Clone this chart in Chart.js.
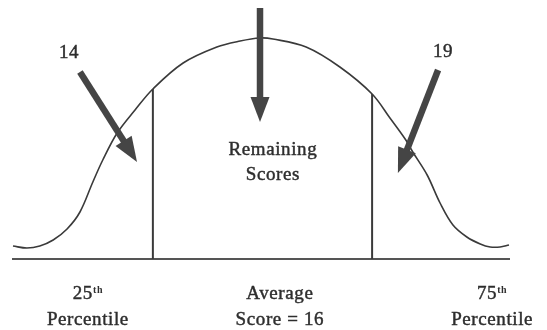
<!DOCTYPE html>
<html>
<head>
<meta charset="utf-8">
<script src="https://cdn.jsdelivr.net/npm/chart.js@4/dist/chart.umd.min.js"></script>
<style>
  body { margin: 0; background: #fff; }
  canvas { display: block; }
</style>
</head>
<body>
<canvas id="bell" width="547" height="330"></canvas>
<script>
// bell curve (x 0..100 across the axis, y 0..100 up from it)
var curveX = [0, 2.8, 5.4, 8.1, 10.9, 13.5, 16.1, 18.1, 21.0, 24.6, 28.2, 34.3, 41.1, 45.8, 49.8, 52.4, 59.1, 65.9, 72.4, 76.0, 79.2, 80.6, 83.5, 86.1, 88.7, 91.5, 94.2, 96.2, 98.2, 100];
var curveY = [5.2, 4.4, 5.2, 7.6, 12, 18.8, 30.8, 39.6, 50.4, 59.6, 68, 78.4, 84.8, 87.2, 88.4, 88, 84.8, 76.8, 66, 56.4, 47.6, 42.8, 33.6, 22.4, 13.6, 8.8, 6, 4.8, 4.8, 5.6];

// the two percentile cut lines
var cutX = [28.2, 72.4];
var cutY = [68, 66];

// arrows: tail -> tip
var arrowFromX = [13.5, 49.8, 85.7];
var arrowFromY = [74.8, 100.4, 75.6];
var arrowToX = [25.0, 49.8, 77.6];
var arrowToY = [38.8, 54.8, 34.4];

// labels inside the plot
var noteText = ["14", "19", "Remaining", "Scores"];
var noteX = [11.3, 86.7, 52.4, 52.4];
var noteY = [80.4, 80.8, 41.6, 31.6];

// labels under the axis
var underX = [15.1, 53.8, 96.6];
var underTop = ["25", "Average", "75"];
var underSup = ["th", "", "th"];
var underBottom = ["Percentile", "Score = 16", "Percentile"];

var ink = "#3a3a3a";
var serif = "'Liberation Serif', 'Times New Roman', serif";

function pts(xs, ys) {
    return xs.map(function (x, i) { return {x: x, y: ys[i]}; });
}

var datasets = [{
    data: pts(curveX, curveY),
    showLine: true,
    borderColor: ink,
    borderWidth: 1.6,
    pointRadius: 0,
    tension: 0.35,
    clip: false
}];
for (let i = 0; i < cutX.length; i++) {
    datasets.push({
        data: [{x: cutX[i], y: 0}, {x: cutX[i], y: cutY[i]}],
        showLine: true,
        borderColor: ink,
        borderWidth: 2,
        pointRadius: 0,
        clip: false
    });
}

// scanned text looks heavy, so fill and give it a thin stroke too
function inkText(ctx, txt, x, y) {
    ctx.fillText(txt, x, y);
    ctx.strokeText(txt, x, y);
}

var extras = {
    id: "extras",
    afterDraw: function (chart) {
        var ctx = chart.ctx;
        var sx = chart.scales.x, sy = chart.scales.y;
        ctx.save();

        // arrows
        ctx.fillStyle = "#454545";
        ctx.strokeStyle = "#454545";
        for (let i = 0; i < arrowFromX.length; i++) {
            let x0 = sx.getPixelForValue(arrowFromX[i]), y0 = sy.getPixelForValue(arrowFromY[i]);
            let x1 = sx.getPixelForValue(arrowToX[i]), y1 = sy.getPixelForValue(arrowToY[i]);
            let ang = Math.atan2(y1 - y0, x1 - x0);
            let headLen = 25, headHalf = 9.5;
            let bx = x1 - headLen * Math.cos(ang), by = y1 - headLen * Math.sin(ang);
            ctx.lineWidth = 6.5;
            ctx.lineCap = "butt";
            ctx.beginPath();
            ctx.moveTo(x0, y0);
            ctx.lineTo(bx + 2 * Math.cos(ang), by + 2 * Math.sin(ang));
            ctx.stroke();
            ctx.beginPath();
            ctx.moveTo(x1, y1);
            ctx.lineTo(bx - headHalf * Math.sin(ang), by + headHalf * Math.cos(ang));
            ctx.lineTo(bx + headHalf * Math.sin(ang), by - headHalf * Math.cos(ang));
            ctx.closePath();
            ctx.fill();
        }

        ctx.fillStyle = "#2e2e2e";
        ctx.strokeStyle = "#2e2e2e";
        ctx.lineWidth = 0.45;
        ctx.textAlign = "center";
        ctx.textBaseline = "alphabetic";
        ctx.font = "19px " + serif;
        ctx.letterSpacing = "0.6px";
        for (let i = 0; i < noteText.length; i++) {
            inkText(ctx, noteText[i], sx.getPixelForValue(noteX[i]), sy.getPixelForValue(noteY[i]));
        }

        // under the axis
        var base = sy.getPixelForValue(0);
        for (let i = 0; i < underX.length; i++) {
            let cx = sx.getPixelForValue(underX[i]);
            ctx.font = "19px " + serif;
            let w1 = ctx.measureText(underTop[i]).width;
            ctx.font = "bold 10px " + serif;
            let w2 = underSup[i] ? ctx.measureText(underSup[i]).width : 0;
            let left = cx - (w1 + w2) / 2;
            ctx.textAlign = "left";
            ctx.font = "19px " + serif;
            inkText(ctx, underTop[i], left, base + 40);
            if (underSup[i]) {
                ctx.font = "bold 10px " + serif;
                ctx.fillText(underSup[i], left + w1, base + 34);
            }
            ctx.textAlign = "center";
            ctx.font = "19px " + serif;
            inkText(ctx, underBottom[i], cx, base + 66);
        }
        ctx.restore();
    }
};

new Chart(document.getElementById("bell"), {
    type: "scatter",
    data: {datasets: datasets},
    options: {
        responsive: false,
        animation: false,
        layout: {padding: {left: 13, right: 38, top: 9, bottom: 71}},
        plugins: {legend: {display: false}, tooltip: {enabled: false}},
        scales: {
            x: {
                type: "linear", min: 0, max: 100,
                ticks: {display: false},
                grid: {display: false, drawTicks: false},
                border: {display: true, color: "#555", width: 2}
            },
            y: {
                type: "linear", min: 0, max: 100,
                display: false
            }
        }
    },
    plugins: [extras]
});
</script>
</body>
</html>
